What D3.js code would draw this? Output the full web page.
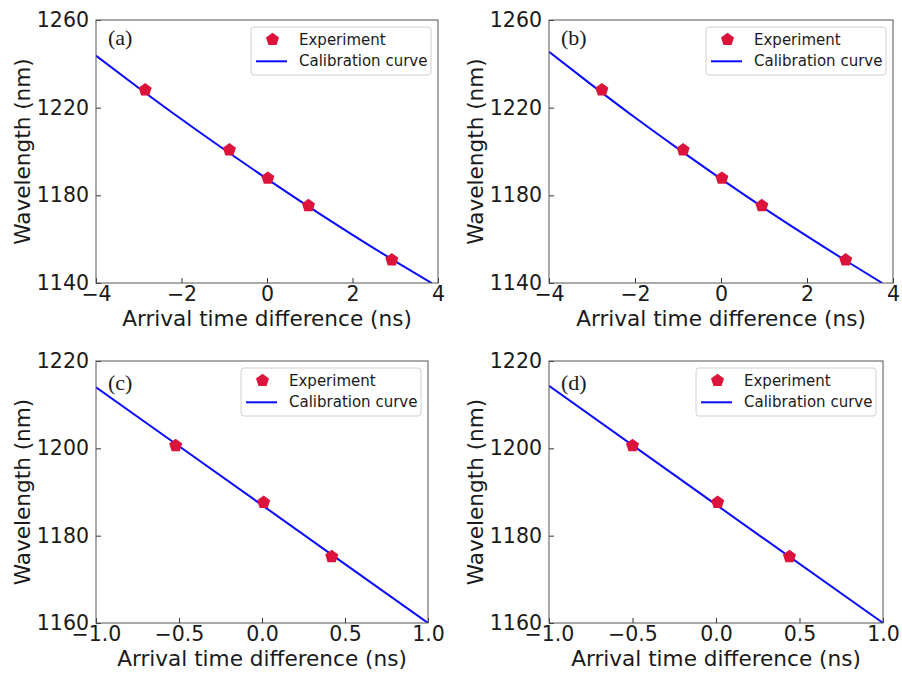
<!DOCTYPE html>
<html>
<head>
<meta charset="utf-8">
<script src="https://cdn.jsdelivr.net/npm/d3@7"></script>
<style>
  html, body { margin: 0; padding: 0; background: #fff; }
  svg { display: block; }
  .tick text { font-family: "DejaVu Sans", sans-serif; }
</style>
</head>
<body>
<svg id="chart" width="902" height="675"></svg>
<script>
// --- data ---
const panelLabels = ['(a)', '(b)', '(c)', '(d)'];

// (a)
const expTimeA = [-2.85, -0.88, 0.02, 0.97, 2.92];
const expWaveA = [1228.1, 1200.7, 1187.8, 1175.3, 1150.5];
const fitTimeA = [-4, -3, -2, -1, 0, 1, 2, 3, 3.85];
const fitWaveA = [1243.7, 1229.0, 1214.7, 1200.9, 1187.5, 1174.5, 1162.0, 1149.9, 1140.0];

// (b)
const expTimeB = [-2.77, -0.88, 0.02, 0.95, 2.90];
const expWaveB = [1228.1, 1200.7, 1187.8, 1175.3, 1150.5];
const fitTimeB = [-4, -3, -2, -1, 0, 1, 2, 3, 3.75];
const fitWaveB = [1245.5, 1230.3, 1215.5, 1201.3, 1187.5, 1174.2, 1161.4, 1149.0, 1140.0];

// (c)
const expTimeC = [-0.52, 0.01, 0.42];
const expWaveC = [1200.6, 1187.6, 1175.2];
const fitTimeC = [-1, 0, 1];
const fitWaveC = [1214.0, 1187.0, 1160.0];

// (d)
const expTimeD = [-0.50, 0.01, 0.44];
const expWaveD = [1200.6, 1187.6, 1175.2];
const fitTimeD = [-1, 0, 1];
const fitWaveD = [1214.3, 1187.1, 1160.0];

// axis ticks
const timeTicksWide = [-4, -2, 0, 2, 4];
const waveTicksWide = [1140, 1180, 1220, 1260];
const timeTicksNarrow = [-1.0, -0.5, 0.0, 0.5, 1.0];
const waveTicksNarrow = [1160, 1180, 1200, 1220];

const legendLabels = ['Experiment', 'Calibration curve'];
const xTitle = 'Arrival time difference (ns)';
const yTitle = 'Wavelength (nm)';

// --- layout (pixel boxes of each axes) ---
const panels = [
    { label: panelLabels[0], box: [96, 20, 438, 283], xDomain: [-4, 4], yDomain: [1140, 1260],
      xTicks: timeTicksWide, yTicks: waveTicksWide, xFmt: d3.format('d'),
      expT: expTimeA, expW: expWaveA, fitT: fitTimeA, fitW: fitWaveA, labelDy: 25 },
    { label: panelLabels[1], box: [549, 20, 893, 283], xDomain: [-4, 4], yDomain: [1140, 1260],
      xTicks: timeTicksWide, yTicks: waveTicksWide, xFmt: d3.format('d'),
      expT: expTimeB, expW: expWaveB, fitT: fitTimeB, fitW: fitWaveB, labelDy: 25 },
    { label: panelLabels[2], box: [96, 361, 428, 623], xDomain: [-1, 1], yDomain: [1160, 1220],
      xTicks: timeTicksNarrow, yTicks: waveTicksNarrow, xFmt: d3.format('.1f'),
      expT: expTimeC, expW: expWaveC, fitT: fitTimeC, fitW: fitWaveC, labelDy: 29 },
    { label: panelLabels[3], box: [549, 361, 883, 623], xDomain: [-1, 1], yDomain: [1160, 1220],
      xTicks: timeTicksNarrow, yTicks: waveTicksNarrow, xFmt: d3.format('.1f'),
      expT: expTimeD, expW: expWaveD, fitT: fitTimeD, fitW: fitWaveD, labelDy: 29 }
];

const MARKER_COLOR = '#dc143c';
const LINE_COLOR = '#0a0aff';
const SPINE_COLOR = '#555';
const TEXT_COLOR = '#1a1a1a';

// matplotlib style 'p' marker, point up
const symbolPentagon = {
    draw(context, size) {
        const r = Math.sqrt(size / 2.3776);
        for (let i = 0; i < 5; i++) {
            const a = -Math.PI / 2 + i * 2 * Math.PI / 5;
            const px = r * Math.cos(a), py = r * Math.sin(a);
            if (i === 0) context.moveTo(px, py); else context.lineTo(px, py);
        }
        context.closePath();
    }
};
const pentagon = d3.symbol().type(symbolPentagon).size(112);

const svg = d3.select('#chart');

panels.forEach((p, idx) => {
    const [x0, y0, x1, y1] = p.box;
    const w = x1 - x0, h = y1 - y0;

    const x = d3.scaleLinear().domain(p.xDomain).range([0, w]);
    const y = d3.scaleLinear().domain(p.yDomain).range([h, 0]);

    const g = svg.append('g').attr('transform', `translate(${x0},${y0})`);

    svg.append('clipPath').attr('id', `clip-${idx}`)
        .append('rect').attr('width', w).attr('height', h);

    // axes with inward ticks
    const xAxis = g.append('g')
        .attr('transform', `translate(0,${h})`)
        .call(d3.axisBottom(x).tickValues(p.xTicks).tickFormat(p.xFmt)
            .tickSizeInner(-5).tickSizeOuter(0).tickPadding(3));
    const yAxis = g.append('g')
        .call(d3.axisLeft(y).tickValues(p.yTicks).tickFormat(d3.format('d'))
            .tickSizeInner(-5).tickSizeOuter(0).tickPadding(7));

    [xAxis, yAxis].forEach(a => {
        a.select('.domain').remove();
        a.selectAll('.tick line').attr('stroke', '#333').attr('stroke-width', 1);
        a.selectAll('.tick text')
            .attr('fill', TEXT_COLOR)
            .style('font-size', '20.5px');
    });

    // calibration curve
    const fit = p.fitT.map((t, i) => ({ t, w: p.fitW[i] }));
    g.append('path')
        .datum(fit)
        .attr('clip-path', `url(#clip-${idx})`)
        .attr('d', d3.line().x(d => x(d.t)).y(d => y(d.w)).curve(d3.curveMonotoneX))
        .attr('fill', 'none')
        .attr('stroke', LINE_COLOR)
        .attr('stroke-width', 2);

    // experiment points
    const pts = p.expT.map((t, i) => ({ t, w: p.expW[i] }));
    g.selectAll('.pt')
        .data(pts)
        .join('path')
        .attr('class', 'pt')
        .attr('transform', d => `translate(${x(d.t)},${y(d.w)})`)
        .attr('d', pentagon)
        .attr('fill', MARKER_COLOR);

    // frame
    g.append('rect')
        .attr('width', w).attr('height', h)
        .attr('fill', 'none')
        .attr('stroke', SPINE_COLOR)
        .attr('stroke-width', 1);

    // panel tag
    g.append('text')
        .attr('x', 12).attr('y', p.labelDy)
        .attr('font-family', '"Liberation Serif", "DejaVu Serif", serif')
        .attr('font-size', 22)
        .attr('fill', TEXT_COLOR)
        .text(p.label);

    // legend
    const lw = 180, lh = 48;
    const leg = g.append('g').attr('transform', `translate(${w - 7 - lw},7)`);
    leg.append('rect')
        .attr('width', lw).attr('height', lh).attr('rx', 3)
        .attr('fill', '#fff').attr('stroke', '#d0d0d0').attr('stroke-width', 1);
    leg.append('path')
        .attr('transform', 'translate(21.5,12.5)')
        .attr('d', pentagon)
        .attr('fill', MARKER_COLOR);
    leg.append('line')
        .attr('x1', 5).attr('x2', 36).attr('y1', 34.3).attr('y2', 34.3)
        .attr('stroke', LINE_COLOR).attr('stroke-width', 2);
    leg.selectAll('.leg-text')
        .data(legendLabels)
        .join('text')
        .attr('class', 'leg-text')
        .attr('x', 48)
        .attr('y', (d, i) => 17.7 + i * 21.6)
        .attr('font-family', '"DejaVu Sans", sans-serif')
        .attr('font-size', 15)
        .attr('fill', TEXT_COLOR)
        .text(d => d);

    // axis titles
    g.append('text')
        .attr('x', w / 2).attr('y', h + 43)
        .attr('text-anchor', 'middle')
        .attr('font-family', '"DejaVu Sans", sans-serif')
        .attr('font-size', 21.6)
        .attr('fill', TEXT_COLOR)
        .text(xTitle);
    g.append('text')
        .attr('transform', `translate(-66,${h / 2}) rotate(-90)`)
        .attr('text-anchor', 'middle')
        .attr('font-family', '"DejaVu Sans", sans-serif')
        .attr('font-size', 21.6)
        .attr('fill', TEXT_COLOR)
        .text(yTitle);
});
</script>
</body>
</html>
